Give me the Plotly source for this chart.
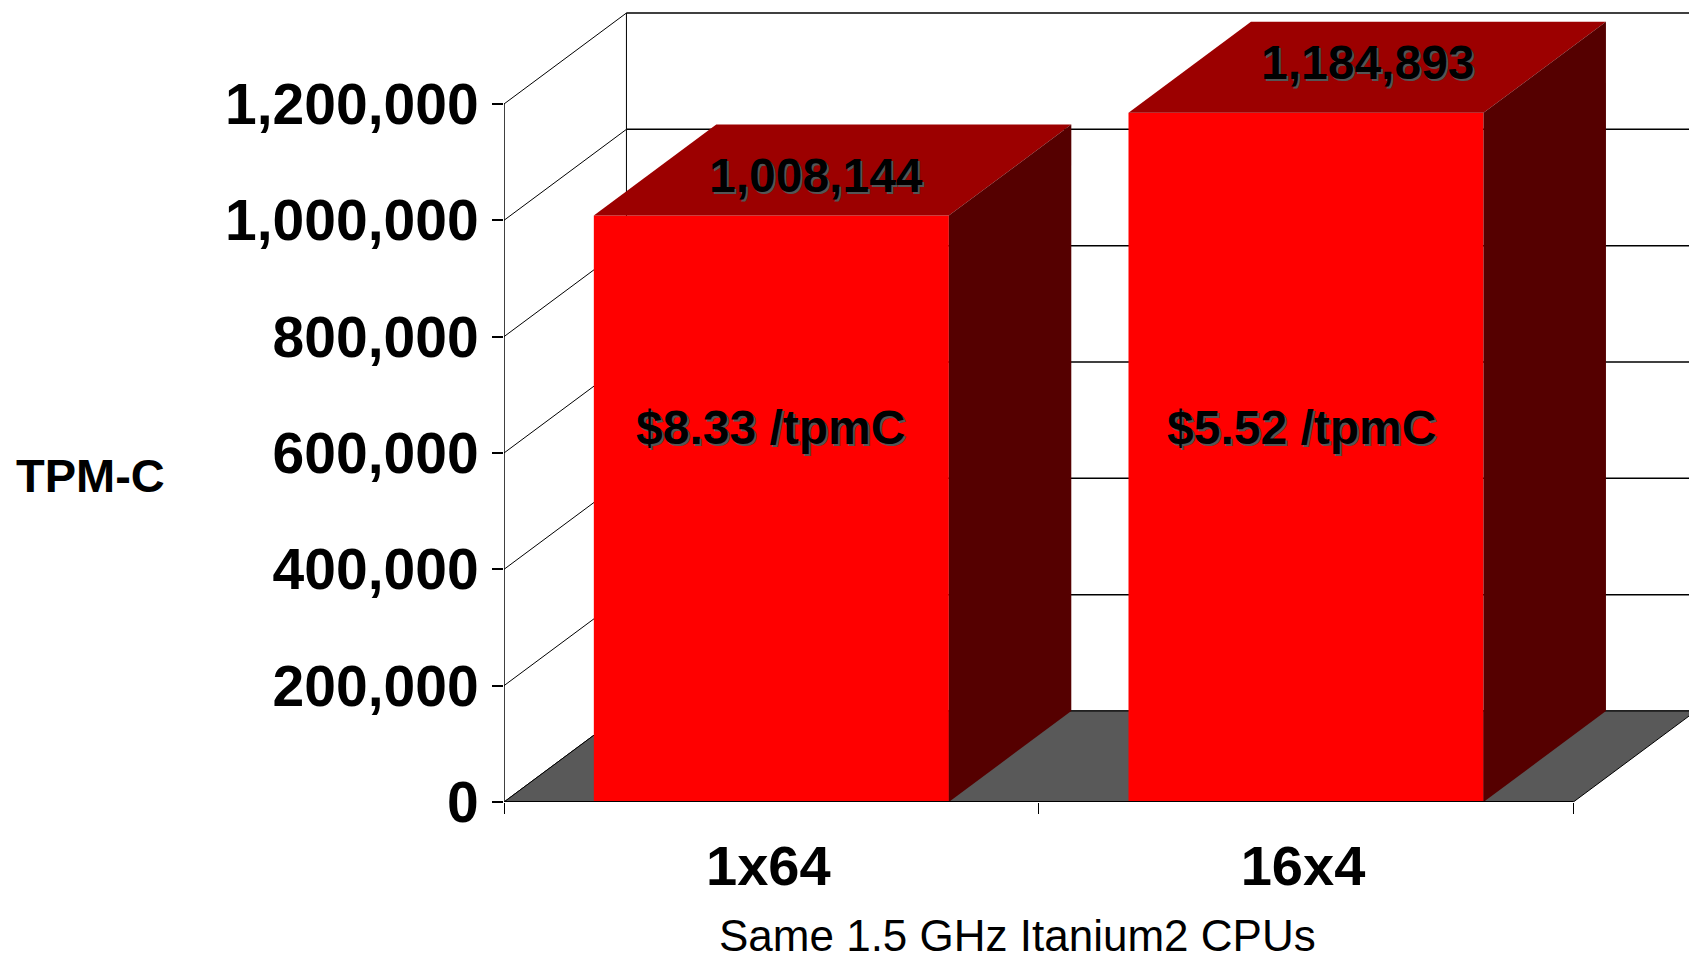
import plotly.graph_objects as go

# Data
categories = ["1x64", "16x4"]
category_pos = [0.5, 1.5]
tpmc_values = [1008144, 1184893]
price_labels = ["$8.33 /tpmC", "$5.52 /tpmC"]
y_ticks = [0, 200000, 400000, 600000, 800000, 1000000, 1200000]
x_ticks = [0, 1, 2]
value_labels = ["1,008,144", "1,184,893"]

# Style / projection constants
BAR_WIDTH = 0.664
DEPTH_X = 0.229       # oblique depth, in category units
DEPTH_Y = 156400      # oblique depth, in value units
X_RANGE = [0, 2.2163]
Y_RANGE = [0, 1378750]
RED, TOP, SIDE, FLOOR = "#FF0000", "#9C0000", "#550000", "#595959"
FONT = "Liberation Sans, Arial, sans-serif"
LABEL_SHIFT_X = [45, 62]
LABEL_SHIFT_Y = [40, 50]
PRICE_Y = 644000
PRICE_SHIFT_X = [-1, -5]
SHADOW = "2px 2px 0 #555555"

fig = go.Figure()

# Front faces
fig.add_trace(go.Bar(x=category_pos, y=tpmc_values, width=BAR_WIDTH,
                     marker=dict(color=RED, line=dict(width=0)), hoverinfo="skip"))

# Top and side faces of each bar
for c, v in zip(category_pos, tpmc_values):
    x0, x1 = c - BAR_WIDTH / 2, c + BAR_WIDTH / 2
    fig.add_trace(go.Scatter(
        x=[x0, x0 + DEPTH_X, x1 + DEPTH_X, x1, x0],
        y=[v, v + DEPTH_Y, v + DEPTH_Y, v, v],
        mode="lines", fill="toself", fillcolor=TOP,
        line=dict(width=0, color=TOP), hoverinfo="skip"))
    fig.add_trace(go.Scatter(
        x=[x1, x1 + DEPTH_X, x1 + DEPTH_X, x1, x1],
        y=[0, DEPTH_Y, v + DEPTH_Y, v, 0],
        mode="lines", fill="toself", fillcolor=SIDE,
        line=dict(width=0, color=SIDE), hoverinfo="skip"))

# Wall, floor and axis lines
shapes = []
line_thin = dict(color="#000000", width=1)
for t in y_ticks:
    shapes.append(dict(type="line", layer="below", x0=0, x1=DEPTH_X, y0=t, y1=t + DEPTH_Y, line=line_thin))
    shapes.append(dict(type="line", layer="below", x0=DEPTH_X, x1=X_RANGE[1], y0=t + DEPTH_Y, y1=t + DEPTH_Y,
                       line=dict(color="#000000", width=1.5)))
shapes.append(dict(type="line", layer="below", x0=DEPTH_X, x1=DEPTH_X, y0=DEPTH_Y, y1=y_ticks[-1] + DEPTH_Y, line=line_thin))
shapes.append(dict(type="path", layer="below",
                   path=f"M 0 0 L {DEPTH_X} {DEPTH_Y} L {x_ticks[-1] + DEPTH_X} {DEPTH_Y} L {x_ticks[-1]} 0 Z",
                   fillcolor=FLOOR, line=dict(color="#000000", width=1)))
shapes.append(dict(type="line", layer="above", x0=0, x1=0, y0=0, y1=y_ticks[-1], line=dict(color="#000000", width=1.5)))
shapes.append(dict(type="line", layer="above", x0=0, x1=x_ticks[-1], y0=0, y1=0, line=dict(color="#000000", width=2)))

# Text labels
annotations = []
for c, v, t, sx, sy in zip(category_pos, tpmc_values, value_labels, LABEL_SHIFT_X, LABEL_SHIFT_Y):
    annotations.append(dict(x=c, y=v, text=t, showarrow=False, xshift=sx, yshift=sy,
                            xanchor="center", yanchor="middle",
                            font=dict(family=FONT, size=48, color="#000000", weight="bold", shadow=SHADOW)))
for c, t, sx in zip(category_pos, price_labels, PRICE_SHIFT_X):
    annotations.append(dict(x=c, y=PRICE_Y, text=t, showarrow=False, xanchor="center", yanchor="middle", xshift=sx,
                            font=dict(family=FONT, size=48, color="#000000", weight="bold", shadow=SHADOW)))
annotations.append(dict(xref="paper", yref="paper", x=-0.4135, y=0.407, text="TPM-C", showarrow=False,
                        xanchor="left", yanchor="middle",
                        font=dict(family=FONT, size=47, color="#000000", weight="bold")))
annotations.append(dict(xref="paper", yref="paper", x=0.433, y=-0.1655, text="Same 1.5 GHz Itanium2 CPUs",
                        showarrow=False, xanchor="center", yanchor="middle", height=38,
                        font=dict(family=FONT, size=44, color="#000000")))

fig.update_layout(
    width=1689, height=954, autosize=False,
    margin=dict(l=503.8, r=0, t=0, b=151.7, pad=0),
    paper_bgcolor="#FFFFFF", plot_bgcolor="#FFFFFF",
    showlegend=False, shapes=shapes, annotations=annotations,
    xaxis=dict(range=X_RANGE, tickmode="array", tickvals=category_pos, ticktext=categories,
               ticks="", showgrid=False, zeroline=False, showline=False, ticklabelstandoff=26,
               ticklabelshift=-3,
               tickfont=dict(family=FONT, size=56, color="#000000", weight="bold"),
               minor=dict(tickmode="array", tickvals=x_ticks, ticks="outside", ticklen=11,
                          tickwidth=1, tickcolor="#000000", showgrid=False)),
    yaxis=dict(range=Y_RANGE, tickmode="array", tickvals=y_ticks, tickformat=",",
               ticks="outside", ticklen=11, tickwidth=1.5, tickcolor="#000000",
               showgrid=False, zeroline=False, showline=False, ticklabelstandoff=2,
               tickfont=dict(family=FONT, size=57, color="#000000", weight="bold")),
)

fig.write_html("out.html", config=dict(displayModeBar=False),
               post_script="document.body.style.margin='0';document.body.style.overflow='hidden';")
